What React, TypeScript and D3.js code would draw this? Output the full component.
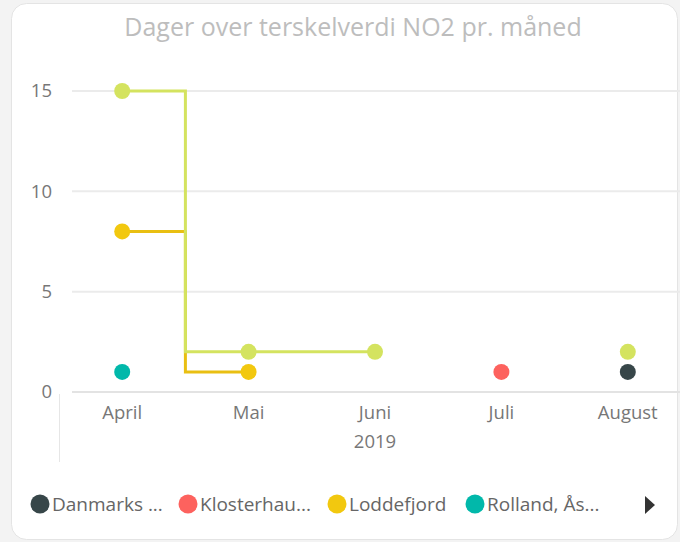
import { useEffect, useRef } from "react";
import * as d3 from "d3";

const months = ["April", "Mai", "Juni", "Juli", "August"];
const yearLabel = "2019";
const yTicks = [0, 5, 10, 15];

const seriesNames = ["Danmarks plass", "Klosterhaugen", "Loddefjord", "Rolland, Åsane", "Rådhuset"];
const seriesColors = ["#374649", "#FD625E", "#F2C80F", "#01B8AA", "#D4E35F"];
const lineColors = ["#374649", "#FD625E", "#E9BF12", "#01B8AA", "#D4E35F"];
const danmarks = [null, null, null, null, 1];
const klosterhaug = [null, null, null, 1, null];
const loddefjord = [8, 1, null, null, null];
const rolland = [1, null, null, null, null];
const raadhuset = [15, 2, 2, null, 2];
const seriesValues = [danmarks, klosterhaug, loddefjord, rolland, raadhuset];

const legendLabels = ["Danmarks ...", "Klosterhau...", "Loddefjord", "Rolland, Ås..."];

const FONT = "'Segoe UI', 'Open Sans', sans-serif";

const Chart = () => {
  const svgRef = useRef(null);

  useEffect(() => {
    if (!svgRef.current) return;
    d3.select(svgRef.current).selectAll("*").remove();

    const W = 680;
    const H = 542;
    const svg = d3.select(svgRef.current).attr("width", W).attr("height", H);

    // page background + card
    svg.append("rect").attr("width", W).attr("height", H).attr("fill", "#f3f3f3");
    svg
      .append("rect")
      .attr("x", 11.5)
      .attr("y", 3.5)
      .attr("width", 666)
      .attr("height", 536)
      .attr("rx", 15)
      .attr("fill", "#fff")
      .attr("stroke", "#e4e4e4");

    svg
      .append("text")
      .attr("x", 353)
      .attr("y", 36)
      .attr("text-anchor", "middle")
      .attr("font-family", FONT)
      .attr("font-size", 25)
      .attr("fill", "#bdbdbd")
      .text("Dager over terskelverdi NO2 pr. måned");

    const x = d3.scalePoint().domain(months).range([59, 691]).padding(0.5);
    const y = d3.scaleLinear().domain([0, 15]).range([392, 91]);

    // grid
    yTicks.forEach((t) => {
      svg
        .append("line")
        .attr("x1", 72)
        .attr("x2", 680)
        .attr("y1", y(t))
        .attr("y2", y(t))
        .attr("stroke", t === 0 ? "#e3e3e3" : "#ebebeb")
        .attr("stroke-width", 2);
      svg
        .append("text")
        .attr("x", 52)
        .attr("y", y(t))
        .attr("dy", "0.35em")
        .attr("text-anchor", "end")
        .attr("font-family", FONT)
        .attr("font-size", 18.5)
        .attr("fill", "#777")
        .text(t);
    });

    // category axis
    svg
      .append("line")
      .attr("x1", 59.5)
      .attr("x2", 59.5)
      .attr("y1", 394)
      .attr("y2", 462)
      .attr("stroke", "#e6e6e6");
    months.forEach((m) => {
      svg
        .append("text")
        .attr("x", x(m) as number)
        .attr("y", 419)
        .attr("text-anchor", "middle")
        .attr("font-family", FONT)
        .attr("font-size", 18.5)
        .attr("fill", "#777")
        .text(m);
    });
    svg
      .append("text")
      .attr("x", x("Juni") as number)
      .attr("y", 448)
      .attr("text-anchor", "middle")
      .attr("font-family", FONT)
      .attr("font-size", 18.5)
      .attr("fill", "#777")
      .text(yearLabel);

    // step lines
    const line = d3
      .line<any>()
      .defined((d: any) => d != null)
      .x((_d: any, i: number) => x(months[i]) as number)
      .y((d: any) => y(d))
      .curve(d3.curveStep);

    [2, 4].forEach((s) => {
      svg
        .append("path")
        .datum(seriesValues[s])
        .attr("fill", "none")
        .attr("stroke", lineColors[s])
        .attr("stroke-width", 3)
        .attr("d", line);
    });

    // markers
    seriesValues.forEach((vals, s) => {
      vals.forEach((v, i) => {
        if (v == null) return;
        svg
          .append("circle")
          .attr("cx", x(months[i]) as number)
          .attr("cy", y(v))
          .attr("r", 8)
          .attr("fill", seriesColors[s]);
      });
    });

    // legend
    const legendX = [40, 188, 337, 475];
    legendLabels.forEach((l, i) => {
      svg
        .append("circle")
        .attr("cx", legendX[i])
        .attr("cy", 504)
        .attr("r", 9.5)
        .attr("fill", seriesColors[i]);
      svg
        .append("text")
        .attr("x", legendX[i] + 12)
        .attr("y", 504)
        .attr("dy", "0.35em")
        .attr("font-family", FONT)
        .attr("font-size", 19)
        .attr("fill", "#666")
        .text(l);
    });
    svg
      .append("path")
      .attr("d", "M645,496 L655,505 L645,514 Z")
      .attr("fill", "#333");
  }, []);

  return <svg ref={svgRef} style={{ position: "absolute", left: 0, top: 0 }} />;
};

export default function App() {
  return <Chart />;
}
